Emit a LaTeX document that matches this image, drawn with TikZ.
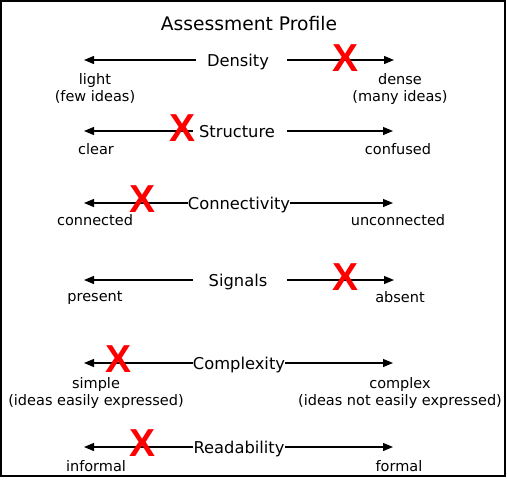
\documentclass[tikz,border=0pt]{standalone}
\usepackage{fontspec}
\setmainfont{DejaVu Sans}
\newfontfamily\xfont{Liberation Sans}
\usetikzlibrary{arrows.meta}
\begin{document}
\begin{tikzpicture}[x=1pt,y=-1pt,
  titletext/.style={font=\fontsize{18.7}{22}\selectfont, inner sep=0, anchor=base},
  dimtext/.style={font=\fontsize{16.3}{19}\selectfont, inner sep=0, anchor=base},
  poletext/.style={font=\fontsize{14.5}{17}\selectfont, align=center, inner sep=0, anchor=north},
  axisarrow/.style={-{Triangle[length=10pt,width=8pt]}, line width=1.2pt},
  xmark/.style={text=red, font=\xfont\bfseries\fontsize{39}{39}\selectfont, inner sep=0}]
\useasboundingbox (0,0) rectangle (507,491);
\draw[line width=1.5pt] (1,1) rectangle (505,476);
\node[titletext] (title) at (249,30) {Assessment Profile};
% Density
\node[dimtext] (dens) at (238,66) {Density};
\coordinate (dL0) at (196,60); \coordinate (dL1) at (84,60);
\coordinate (dR0) at (287,60); \coordinate (dR1) at (394,60);
\draw[axisarrow] (dL0) -- (dL1);
\draw[axisarrow] (dR0) -- (dR1);
\node[poletext] (light) at (95,73) {light\\(few ideas)};
\node[poletext] (dense) at (400,73) {dense\\(many ideas)};
\node[xmark] (xd) at (346,58) {X};
% Structure
\node[dimtext] (struc) at (237,137) {Structure};
\coordinate (sL0) at (193,131); \coordinate (sL1) at (84,131);
\coordinate (sR0) at (287,131); \coordinate (sR1) at (393,131);
\draw[axisarrow] (sL0) -- (sL1);
\draw[axisarrow] (sR0) -- (sR1);
\node[poletext] (clear) at (96,143) {clear};
\node[poletext] (confused) at (398,143) {confused};
\node[xmark] (xs) at (183,128) {X};
% Connectivity
\node[dimtext] (conn) at (239,209) {Connectivity};
\coordinate (cL1) at (84,203); \coordinate (cR1) at (393,203);
\draw[axisarrow] (conn.west |- cL1) -- (cL1);
\draw[axisarrow] (conn.east |- cR1) -- (cR1);
\node[poletext] (connected) at (95,214) {connected};
\node[poletext] (unconnected) at (398,214) {unconnected};
\node[xmark] (xc) at (143,199) {X};
% Signals
\node[dimtext] (sig) at (238,286) {Signals};
\coordinate (gL0) at (193,280); \coordinate (gL1) at (84,280);
\coordinate (gR0) at (287,280); \coordinate (gR1) at (394,280);
\draw[axisarrow] (gL0) -- (gL1);
\draw[axisarrow] (gR0) -- (gR1);
\node[poletext] (present) at (95,291) {present};
\node[poletext] (absent) at (400,291) {absent};
\node[xmark] (xg) at (346,277) {X};
% Complexity
\node[dimtext] (comp) at (239,369) {Complexity};
\coordinate (pL1) at (84,363); \coordinate (pR1) at (393,363);
\draw[axisarrow] (comp.west |- pL1) -- (pL1);
\draw[axisarrow] (comp.east |- pR1) -- (pR1);
\node[poletext] (simple) at (96,377) {simple\\(ideas easily expressed)};
\node[poletext] (complex) at (400,377) {complex\\(ideas not easily expressed)};
\node[xmark] (xp) at (119,359) {X};
% Readability
\node[dimtext] (read) at (239,453) {Readability};
\coordinate (rL1) at (84,447); \coordinate (rR1) at (393,447);
\draw[axisarrow] (read.west |- rL1) -- (rL1);
\draw[axisarrow] (read.east |- rR1) -- (rR1);
\node[poletext] (informal) at (96,460) {informal};
\node[poletext] (formal) at (399,460) {formal};
\node[xmark] (xr) at (143,443) {X};
\end{tikzpicture}
\end{document}
